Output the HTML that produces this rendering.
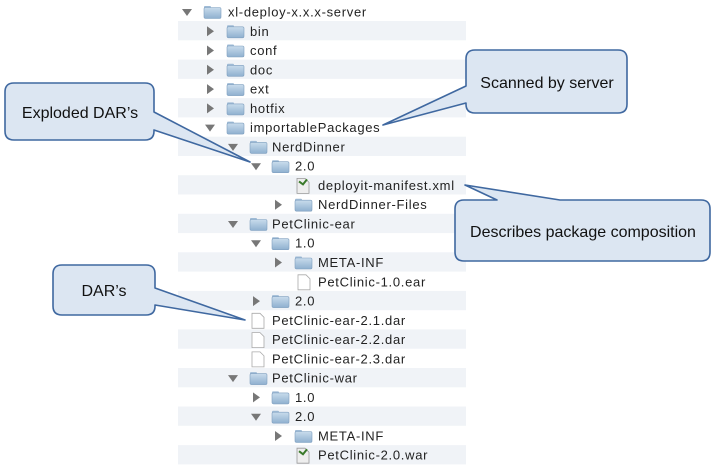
<!DOCTYPE html>
<html><head><meta charset="utf-8"><style>
html,body{margin:0;padding:0;background:#fff;}
svg{display:block;}
text{font-family:"Liberation Sans",sans-serif;}
</style></head><body>
<svg width="712" height="469" viewBox="0 0 712 469" xmlns="http://www.w3.org/2000/svg">
<defs>
<linearGradient id="fg" x1="0" y1="0" x2="0" y2="1"><stop offset="0" stop-color="#c9dcec"/><stop offset="1" stop-color="#8fb0cf"/></linearGradient>
<g id="fold"><rect x="0" y="-6" width="7" height="3" rx="1" fill="#9fbbd6"/><rect x="0" y="-4.5" width="17" height="11" rx="1.5" fill="url(#fg)" stroke="#7f9fbf" stroke-width="0.6"/></g>
<g id="file"><path d="M0,-7 h8 l4,4 v11 h-12z" fill="#fff" stroke="#aaa" stroke-width="0.8"/></g>
<g id="xml"><path d="M0,-7 h8 l4,4 v11 h-12z" fill="#eee" stroke="#999" stroke-width="0.8"/><path d="M2,-4 l4,3 l4,-5" stroke="#3a7a2a" stroke-width="2" fill="none"/></g>
<path id="dn" d="M-5,-3 h10 l-5,7z" fill="#777"/>
<path id="rt" d="M-3,-5 v10 l7,-5z" fill="#777"/>
</defs>
<g fill="#f0f3f7">
<rect x="178" y="21" width="288" height="19.3"/><rect x="178" y="59.6" width="288" height="19.3"/><rect x="178" y="98.1" width="288" height="19.3"/><rect x="178" y="136.7" width="288" height="19.3"/><rect x="178" y="175.2" width="288" height="19.3"/><rect x="178" y="213.8" width="288" height="19.3"/><rect x="178" y="252.3" width="288" height="19.3"/><rect x="178" y="290.9" width="288" height="19.3"/><rect x="178" y="329.4" width="288" height="19.3"/><rect x="178" y="368" width="288" height="19.3"/><rect x="178" y="406.5" width="288" height="19.3"/><rect x="178" y="445.1" width="288" height="19.3"/>
</g>
<g font-size="13" letter-spacing="0.7" fill="#222">
<use href="#dn" x="187" y="12"/><use href="#fold" x="204" y="12"/><text x="228" y="16.5">xl-deploy-x.x.x-server</text>
<use href="#rt" x="210" y="31.3"/><use href="#fold" x="227" y="31.3"/><text x="250" y="35.8">bin</text>
<use href="#rt" x="210" y="50.5"/><use href="#fold" x="227" y="50.5"/><text x="250" y="55">conf</text>
<use href="#rt" x="210" y="69.8"/><use href="#fold" x="227" y="69.8"/><text x="250" y="74.3">doc</text>
<use href="#rt" x="210" y="89.1"/><use href="#fold" x="227" y="89.1"/><text x="250" y="93.6">ext</text>
<use href="#rt" x="210" y="108.4"/><use href="#fold" x="227" y="108.4"/><text x="250" y="112.9">hotfix</text>
<use href="#dn" x="210" y="127.6"/><use href="#fold" x="227" y="127.6"/><text x="250" y="132.1">importablePackages</text>
<use href="#dn" x="233" y="146.9"/><use href="#fold" x="250" y="146.9"/><text x="272" y="151.4">NerdDinner</text>
<use href="#dn" x="256" y="166.2"/><use href="#fold" x="272" y="166.2"/><text x="295" y="170.7">2.0</text>
<use href="#xml" x="297" y="185.4"/><text x="318" y="189.9">deployit-manifest.xml</text>
<use href="#rt" x="278" y="204.7"/><use href="#fold" x="295" y="204.7"/><text x="318" y="209.2">NerdDinner-Files</text>
<use href="#dn" x="233" y="224"/><use href="#fold" x="250" y="224"/><text x="272" y="228.5">PetClinic-ear</text>
<use href="#dn" x="256" y="243.2"/><use href="#fold" x="272" y="243.2"/><text x="295" y="247.7">1.0</text>
<use href="#rt" x="278" y="262.5"/><use href="#fold" x="295" y="262.5"/><text x="318" y="267">META-INF</text>
<use href="#file" x="298" y="281.8"/><text x="318" y="286.3">PetClinic-1.0.ear</text>
<use href="#rt" x="256" y="301.1"/><use href="#fold" x="272" y="301.1"/><text x="295" y="305.6">2.0</text>
<use href="#file" x="252" y="320.3"/><text x="272" y="324.8">PetClinic-ear-2.1.dar</text>
<use href="#file" x="252" y="339.6"/><text x="272" y="344.1">PetClinic-ear-2.2.dar</text>
<use href="#file" x="252" y="358.9"/><text x="272" y="363.4">PetClinic-ear-2.3.dar</text>
<use href="#dn" x="233" y="378.1"/><use href="#fold" x="250" y="378.1"/><text x="272" y="382.6">PetClinic-war</text>
<use href="#rt" x="256" y="397.4"/><use href="#fold" x="272" y="397.4"/><text x="295" y="401.9">1.0</text>
<use href="#dn" x="256" y="416.7"/><use href="#fold" x="272" y="416.7"/><text x="295" y="421.2">2.0</text>
<use href="#rt" x="278" y="436"/><use href="#fold" x="295" y="436"/><text x="318" y="440.5">META-INF</text>
<use href="#xml" x="297" y="455.2"/><text x="318" y="459.7">PetClinic-2.0.war</text>
</g>
<g fill="#dce6f2" stroke="#3f68a0" stroke-width="1.6" stroke-linejoin="round">
<path d="M475,50 H618 Q627,50 627,59 V104 Q627,113 618,113 H475 Q466,113 466,104 V103 L383,125 L466,86 V59 Q466,50 475,50Z"/>
<path d="M14,83 H145 Q154,83 154,92 V112 L250,162 L154,130 V131 Q154,140 145,140 H14 Q5,140 5,131 V92 Q5,83 14,83Z"/>
<path d="M464,200 H497 L465,185 L560,200 H701 Q710,200 710,209 V252 Q710,261 701,261 H464 Q455,261 455,252 V209 Q455,200 464,200Z"/>
<path d="M62,265 H146 Q155,265 155,274 V288 L245,320 L155,305 V306 Q155,315 146,315 H62 Q53,315 53,306 V274 Q53,265 62,265Z"/>
</g>
<g font-size="16" fill="#111" text-anchor="middle">
<text x="547" y="88">Scanned by server</text>
<text x="80" y="118">Exploded DAR’s</text>
<text x="583" y="237">Describes package composition</text>
<text x="104" y="296">DAR’s</text>
</g>
</svg>
</body></html>
